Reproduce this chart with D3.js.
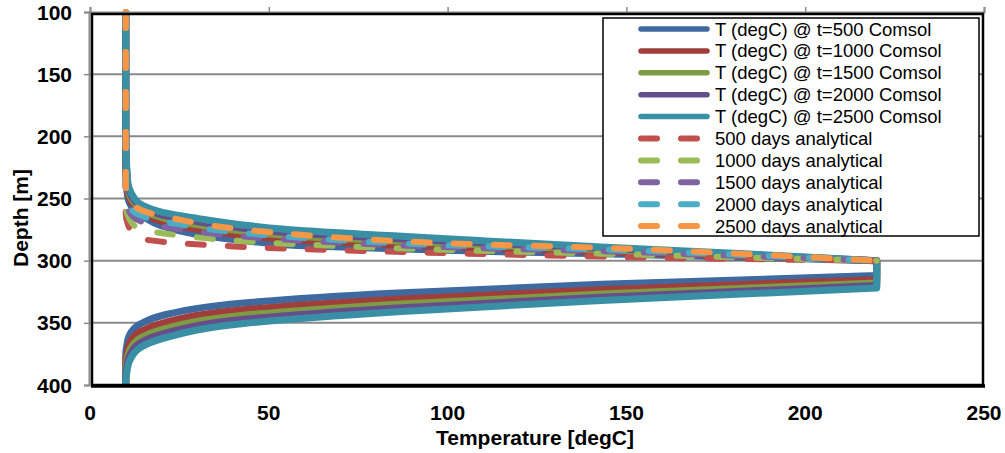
<!DOCTYPE html>
<html><head><meta charset="utf-8">
<script src="https://cdn.jsdelivr.net/npm/d3@7"></script>
<style>html,body{margin:0;padding:0;background:#fff;}svg{display:block;font-family:Arial,"Liberation Sans",sans-serif;}</style>
</head><body>
<svg id="c" width="1005" height="453"></svg>
<script>
// ---- data ----
const xTicks = [0, 50, 100, 150, 200, 250];
const yTicks = [100, 150, 200, 250, 300, 350, 400];
const legendLabels = ["T (degC) @ t=500 Comsol","T (degC) @ t=1000 Comsol","T (degC) @ t=1500 Comsol","T (degC) @ t=2000 Comsol","T (degC) @ t=2500 Comsol",
  "500 days analytical","1000 days analytical","1500 days analytical","2000 days analytical","2500 days analytical"];

// Comsol: upper branch temperatures and depths per series
const tUpperComsol = [10, 10, 10.5, 12, 15, 20, 30, 45, 60, 85, 110, 143, 180, 220];
const dUpper500  = [100, 230, 248, 258, 265, 272, 279, 284.5, 288, 290.5, 292.5, 294.5, 297, 300];
const dUpper1000 = [100, 220, 243.7, 254.7, 262, 268.4, 274.7, 280.4, 284, 287, 289.7, 292.7, 296, 300];
const dUpper1500 = [100, 212, 240.2, 252, 259.6, 265.4, 271.2, 277, 280.8, 284.2, 287.4, 291.2, 295.2, 300];
const dUpper2000 = [100, 206, 237.6, 250, 257.8, 263.2, 268.6, 274.5, 278.4, 282.1, 285.7, 290.1, 294.6, 300];
const dUpper2500 = [100, 200, 235, 248, 256, 261, 266, 272, 276, 280, 284, 289, 294, 300];
// Comsol: lower branch
const tLowerComsol = [220, 143, 86, 43, 21, 14, 11, 10.3, 10, 10];
const dLower500  = [312, 319, 326, 334, 343.5, 351, 360, 368, 375, 400];
const dLower1000 = [315.3, 323.3, 331, 339.4, 349.6, 357.3, 366.9, 375.3, 381.9, 400];
const dLower1500 = [318, 326.8, 335, 343.9, 354.6, 362.4, 372.6, 381.2, 387.6, 400];
const dLower2000 = [320, 329.4, 338, 347.2, 358.3, 366.2, 376.8, 385.6, 391.8, 400];
const dLower2500 = [322, 332, 341, 350.5, 362, 370, 381, 390, 396, 400];
// Analytical (upper only)
const tAnalytical = [10, 10, 10.5, 11.5, 13, 17, 25, 37, 50, 70, 105, 143, 175, 220];
const dAna500  = [100, 262, 270, 276, 280.5, 283.7, 286, 288, 289.8, 291.6, 294.3, 296.7, 298.4, 300];
const dAna1000 = [100, 254.1, 263.1, 268.7, 272.9, 276.5, 279.7, 283.1, 285.6, 288.3, 291.7, 294.4, 296.8, 300];
const dAna1500 = [100, 247.6, 257.4, 262.8, 266.7, 270.7, 274.6, 279, 282.1, 285.5, 289.6, 292.4, 295.5, 300];
const dAna2000 = [100, 242.8, 253.2, 258.4, 262.1, 266.3, 270.8, 276, 279.6, 283.5, 288.1, 291, 294.5, 300];
const dAna2500 = [100, 238, 249, 254, 257.5, 262, 267, 273, 277, 281.5, 286.5, 289.6, 293.5, 300];

const comsolColors = ["#3E6AA0", "#A03E3B", "#7F9C45", "#654F8A", "#3990A5"];
const anaColors = ["#C0504D", "#9BBB59", "#8064A2", "#4BACC6", "#F79646"];

// ---- drawing ----
const svg = d3.select("#c");
const x = d3.scaleLinear().domain([0, 250]).range([90, 984]);
const y = d3.scaleLinear().domain([100, 400]).range([12, 385]);

// gridlines
svg.append("g").selectAll("line").data(yTicks.filter(d => d > 100 && d < 400)).join("line")
  .attr("x1", x(0)).attr("x2", x(250)).attr("y1", d => y(d)).attr("y2", d => y(d))
  .attr("stroke", "#8a8a8a").attr("stroke-width", 2);

const line = d3.line().x(d => x(d[0])).y(d => y(d[1])).curve(d3.curveMonotoneY);
const zip = (ts, ds) => ts.map((t, i) => [t, ds[i]]);

const comsol = [
  [dUpper500, dLower500], [dUpper1000, dLower1000], [dUpper1500, dLower1500],
  [dUpper2000, dLower2000], [dUpper2500, dLower2500]
];
const gLines = svg.append("g");
comsol.forEach((s, i) => {
  const up = line(zip(tUpperComsol, s[0]));
  const lo = line(zip(tLowerComsol, s[1]));
  gLines.append("path").attr("d", up + lo.replace(/^M/, "L"))
    .attr("fill", "none").attr("stroke", comsolColors[i]).attr("stroke-width", 7)
    .attr("stroke-linejoin", "round").attr("stroke-linecap", "butt");
});
const ana = [dAna500, dAna1000, dAna1500, dAna2000, dAna2500];
ana.forEach((ds, i) => {
  gLines.append("path").attr("d", line(zip(tAnalytical, ds)))
    .attr("fill", "none").attr("stroke", anaColors[i]).attr("stroke-width", 6)
    .attr("stroke-linecap", "round").attr("stroke-linejoin", "round")
    .attr("stroke-dasharray", "16 24");
});

// axes (gray) at top and left
const axTop = d3.axisTop(x).tickValues(xTicks).tickSize(5).tickFormat("");
const gx = svg.append("g").attr("transform", `translate(0,${y(100)})`).call(axTop);
const axLeft = d3.axisLeft(y).tickValues(yTicks).tickSize(5).tickFormat("");
const gy = svg.append("g").attr("transform", `translate(${x(0) - 1},0)`).call(axLeft);
[gx, gy].forEach(g => {
  g.selectAll("path").attr("stroke", "#8a8a8a").attr("stroke-width", 2);
  g.selectAll("line").attr("stroke", "#8a8a8a").attr("stroke-width", 1.5);
});

// plot border (black)
svg.append("rect").attr("x", 92).attr("y", 14).attr("width", 891).attr("height", 371)
  .attr("fill", "none").attr("stroke", "#000").attr("stroke-width", 2.5);
svg.append("line").attr("x1", 91).attr("x2", 985).attr("y1", 386).attr("y2", 386)
  .attr("stroke", "#000").attr("stroke-width", 3.5);

// tick labels
svg.append("g").selectAll("text").data(xTicks).join("text")
  .attr("x", d => x(d)).attr("y", 420).attr("text-anchor", "middle")
  .attr("font-size", 21).attr("font-weight", "bold").text(d => d);
svg.append("g").selectAll("text").data(yTicks).join("text")
  .attr("x", 72).attr("y", d => y(d) + 7.5).attr("text-anchor", "end")
  .attr("font-size", 21).attr("font-weight", "bold").text(d => d);

// axis titles
svg.append("text").attr("x", 535).attr("y", 445).attr("text-anchor", "middle")
  .attr("font-size", 21).attr("font-weight", "bold").text("Temperature [degC]");
svg.append("text").attr("transform", "translate(27.5,218) rotate(-90)").attr("text-anchor", "middle")
  .attr("font-size", 21).attr("font-weight", "bold").text("Depth [m]");

// legend
const lg = svg.append("g");
lg.append("rect").attr("x", 603).attr("y", 18).attr("width", 376).attr("height", 218)
  .attr("fill", "#fff").attr("stroke", "#000").attr("stroke-width", 1.5);
const rowY = i => 29 + i * 21.9;
legendLabels.forEach((lab, i) => {
  const yy = rowY(i);
  if (i < 5) {
    lg.append("line").attr("x1", 641).attr("x2", 707).attr("y1", yy).attr("y2", yy)
      .attr("stroke", comsolColors[i]).attr("stroke-width", 5.5).attr("stroke-linecap", "round");
  } else {
    lg.append("line").attr("x1", 641).attr("x2", 707).attr("y1", yy).attr("y2", yy)
      .attr("stroke", anaColors[i - 5]).attr("stroke-width", 6).attr("stroke-linecap", "round")
      .attr("stroke-dasharray", "16 24");
  }
  lg.append("text").attr("x", 715).attr("y", yy + 6.5).attr("font-size", 18.5).attr("fill", "#000").text(lab);
});
</script>
</body></html>
